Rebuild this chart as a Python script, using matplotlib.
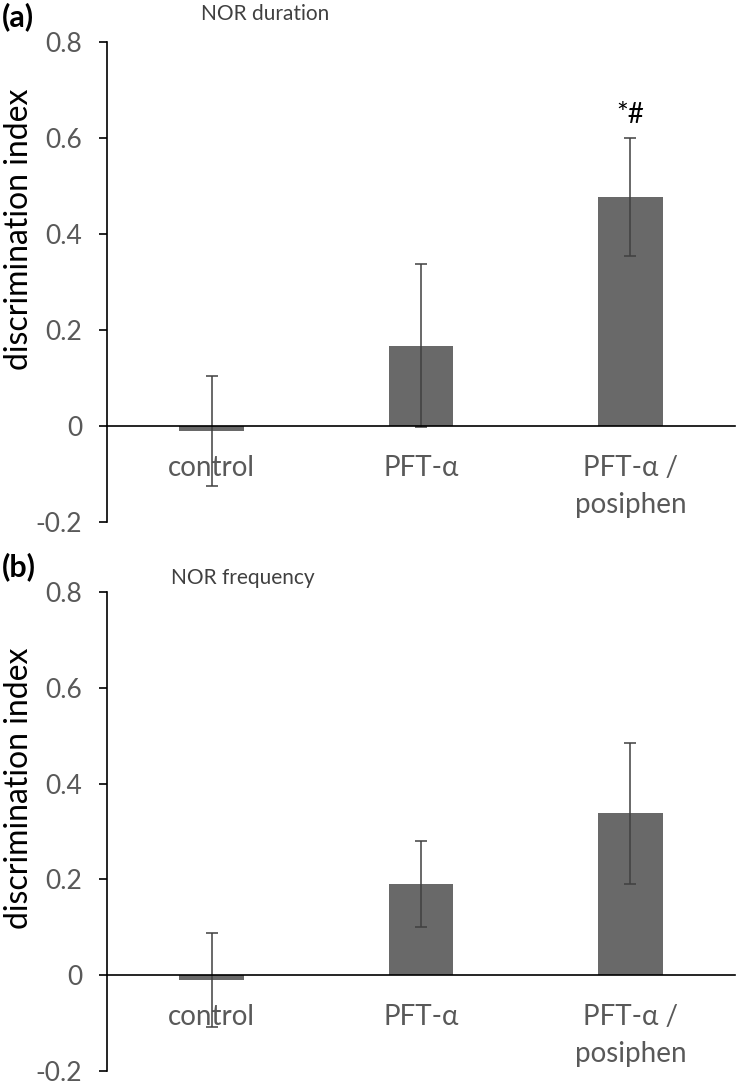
import matplotlib
matplotlib.use("Agg")
import matplotlib.pyplot as plt
import numpy as np

plt.rcParams['font.family'] = ['Lato', 'DejaVu Sans']

categories = ["control", "PFT-α", "PFT-α /\nposiphen"]
duration_mean = [-0.01, 0.167, 0.478]
duration_err = [0.115, 0.170, 0.123]
frequency_mean = [-0.01, 0.191, 0.338]
frequency_err = [0.098, 0.090, 0.147]
yticks = [-0.2, 0, 0.2, 0.4, 0.6, 0.8]
ytick_labels = ["-0.2", "0", "0.2", "0.4", "0.6", "0.8"]
titles = ["NOR duration", "NOR frequency"]
panel_labels = ["(a)", "(b)"]
annotations = [["", "", "*#"], ["", "", ""]]

W, H = 744, 1084
fig = plt.figure(figsize=(W / 100, H / 100), dpi=100)

bar_color = "#696969"
err_color = "#404040"
txt_gray = "#595959"

panels = [
    dict(top=42, bottom=522, means=duration_mean, errs=duration_err, title_x=265, title_y=14, lab_y=17, ylab=0.61),
    dict(top=592, bottom=1071, means=frequency_mean, errs=frequency_err, title_x=243, title_y=578, lab_y=567, ylab=0.59),
]

left_px, right_px = 107, 735
for i, p in enumerate(panels):
    ax = fig.add_axes([left_px / W, 1 - p['bottom'] / H, (right_px - left_px) / W, (p['bottom'] - p['top']) / H])
    x = np.arange(len(categories))
    ax.bar(x, p['means'], width=0.31, color=bar_color, zorder=2)
    ax.errorbar(x, p['means'], yerr=p['errs'], fmt='none', ecolor=err_color, elinewidth=1.1,
                capsize=4, capthick=1.1, zorder=3)
    ax.set_xlim(-0.5, len(categories) - 0.5)
    ax.set_ylim(-0.2, 0.8)
    ax.set_yticks(yticks)
    ax.set_yticklabels(ytick_labels, color=txt_gray, fontsize=19)
    ax.tick_params(axis='y', length=6, width=1.2, color='black', pad=12)
    ax.spines['top'].set_visible(False)
    ax.spines['right'].set_visible(False)
    ax.spines['left'].set_linewidth(1.2)
    ax.spines['bottom'].set_position(('data', 0))
    ax.spines['bottom'].set_linewidth(1.2)
    ax.spines['bottom'].set_zorder(4)
    ax.set_xticks(x)
    ax.set_xticklabels(categories, color=txt_gray, fontsize=20, va='top', linespacing=1.5)
    ax.tick_params(axis='x', length=0, pad=21)
    ax.set_ylabel("discrimination index", fontsize=23, color='black')
    ax.yaxis.set_label_coords(-0.117, p['ylab'])
    for xi, (m, e, a) in enumerate(zip(p['means'], p['errs'], annotations[i])):
        if a:
            ax.annotate(a, (xi, m + e), xytext=(0, 7), textcoords='offset points',
                        ha='center', va='bottom', fontsize=20, color='black')
    fig.text(p['title_x'] / W, 1 - p['title_y'] / H, titles[i], ha='center', va='center',
             fontsize=15, color='#404040')
    fig.text(2 / W, 1 - p['lab_y'] / H, panel_labels[i], ha='left', va='center',
             fontsize=22, fontweight='bold', color='black')

fig.savefig("out.png", dpi=100)
